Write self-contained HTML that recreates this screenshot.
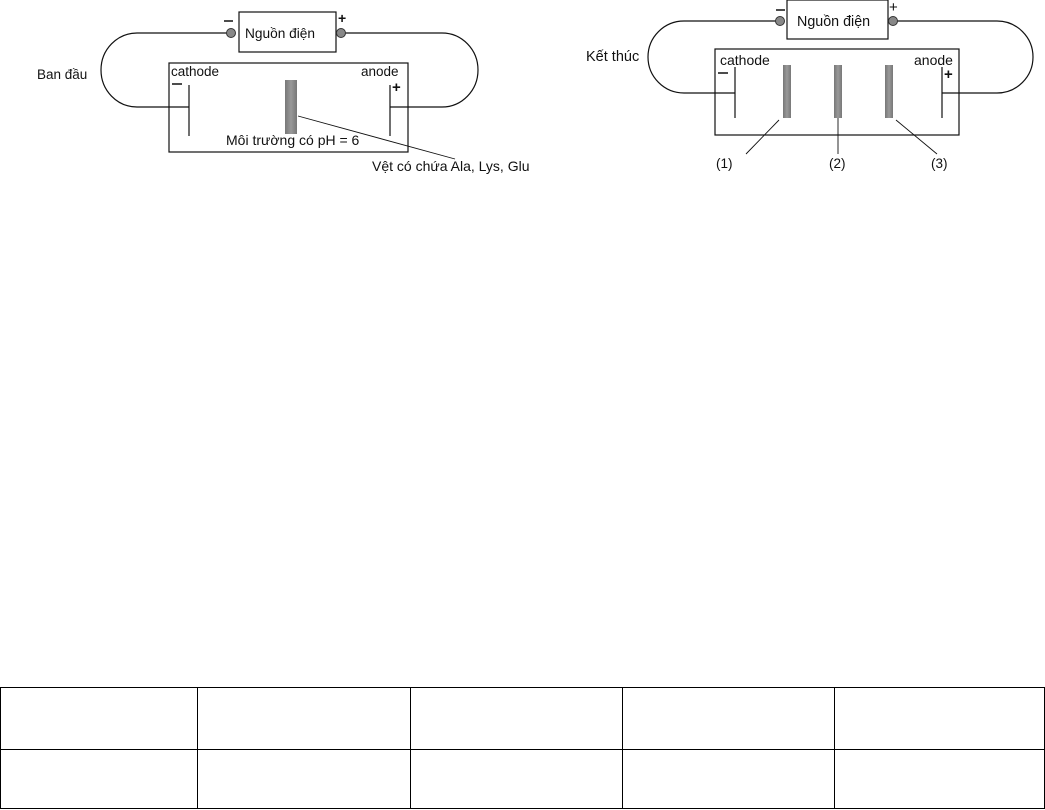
<!DOCTYPE html>
<html><head><meta charset="utf-8"><style>
html,body{margin:0;padding:0;background:#fff;}
body{width:1045px;height:810px;position:relative;overflow:hidden;}
svg{position:absolute;left:0;top:0;}
text{font-family:"Liberation Sans",Arial,sans-serif;fill:#111;}
table{position:absolute;left:0;top:687px;border-collapse:collapse;}
td{border:1px solid #000;padding:0;}
</style></head><body>
<svg width="1045" height="680" viewBox="0 0 1045 680">
<defs>
<linearGradient id="bg" x1="0" x2="1"><stop offset="0" stop-color="#777"/><stop offset="0.5" stop-color="#999"/><stop offset="1" stop-color="#777"/></linearGradient>
</defs>
<g fill="none" stroke="#111" stroke-width="1.2">
<rect x="239" y="12" width="97" height="40"/>
<rect x="169" y="63" width="239" height="89"/>
<path d="M231 33 H137 A36 37 0 0 0 137 107 H189"/>
<path d="M341 33 H442 A36 37 0 0 1 442 107 H390"/>
<line x1="189" y1="85" x2="189" y2="136"/>
<line x1="390" y1="85" x2="390" y2="136"/>
<line x1="298" y1="116" x2="455" y2="159" stroke-width="0.9"/>
<rect x="787" y="0" width="101" height="39"/>
<rect x="715" y="49" width="244" height="86"/>
<path d="M780 21 H684 A36 36 0 0 0 684 93 H735"/>
<path d="M893 21 H997 A36 36 0 0 1 997 93 H942"/>
<line x1="735" y1="67" x2="735" y2="118"/>
<line x1="942" y1="67" x2="942" y2="118"/>
<line x1="779" y1="120" x2="746" y2="154" stroke-width="0.9"/>
<line x1="838" y1="118" x2="838" y2="154" stroke-width="0.9"/>
<line x1="896" y1="120" x2="937" y2="154" stroke-width="0.9"/>
</g>
<g fill="#888" stroke="#333" stroke-width="1">
<circle cx="231" cy="33" r="4.5"/><circle cx="341" cy="33" r="4.5"/>
<circle cx="780" cy="21" r="4.5"/><circle cx="893" cy="21" r="4.5"/>
</g>
<rect x="285" y="80" width="12" height="54" fill="url(#bg)"/>
<rect x="783" y="65" width="8" height="53" fill="url(#bg)"/>
<rect x="834" y="65" width="8" height="53" fill="url(#bg)"/>
<rect x="885" y="65" width="8" height="53" fill="url(#bg)"/>
<g stroke="#111" stroke-width="1.5">
<line x1="224" y1="21" x2="233" y2="21"/><line x1="172" y1="84" x2="182" y2="84"/>
<line x1="776" y1="10" x2="785" y2="10"/><line x1="718" y1="73" x2="728" y2="73"/>
</g>
<g font-size="13.5">
<text x="245" y="38" font-size="13.7">Nguồn điện</text>
<text x="338" y="23" font-size="14" font-weight="bold">+</text>
<text x="171" y="76">cathode</text>
<text x="361" y="76">anode</text>
<text x="392" y="92" font-size="15" font-weight="bold">+</text>
<text x="37" y="79" font-size="13.5">Ban đầu</text>
<text x="226" y="145" font-size="14">Môi trường có pH = 6</text>
<text x="372" y="171" font-size="14">Vệt có chứa Ala, Lys, Glu</text>
<text x="797" y="26" font-size="14.3">Nguồn điện</text>
<text x="889" y="12" font-size="15">+</text>
<text x="720" y="65" font-size="14">cathode</text>
<text x="914" y="65" font-size="14">anode</text>
<text x="944" y="79" font-size="15" font-weight="bold">+</text>
<text x="586" y="61" font-size="14.5">Kết thúc</text>
<text x="716" y="168" font-size="13.5">(1)</text>
<text x="829" y="168" font-size="13.5">(2)</text>
<text x="931" y="168" font-size="13.5">(3)</text>
</g>
</svg>
<table>
<tr style="height:62px"><td style="width:196px"></td><td style="width:212px"></td><td style="width:211px"></td><td style="width:211px"></td><td style="width:209px"></td></tr>
<tr style="height:59px"><td></td><td></td><td></td><td></td><td></td></tr>
</table>
</body></html>
